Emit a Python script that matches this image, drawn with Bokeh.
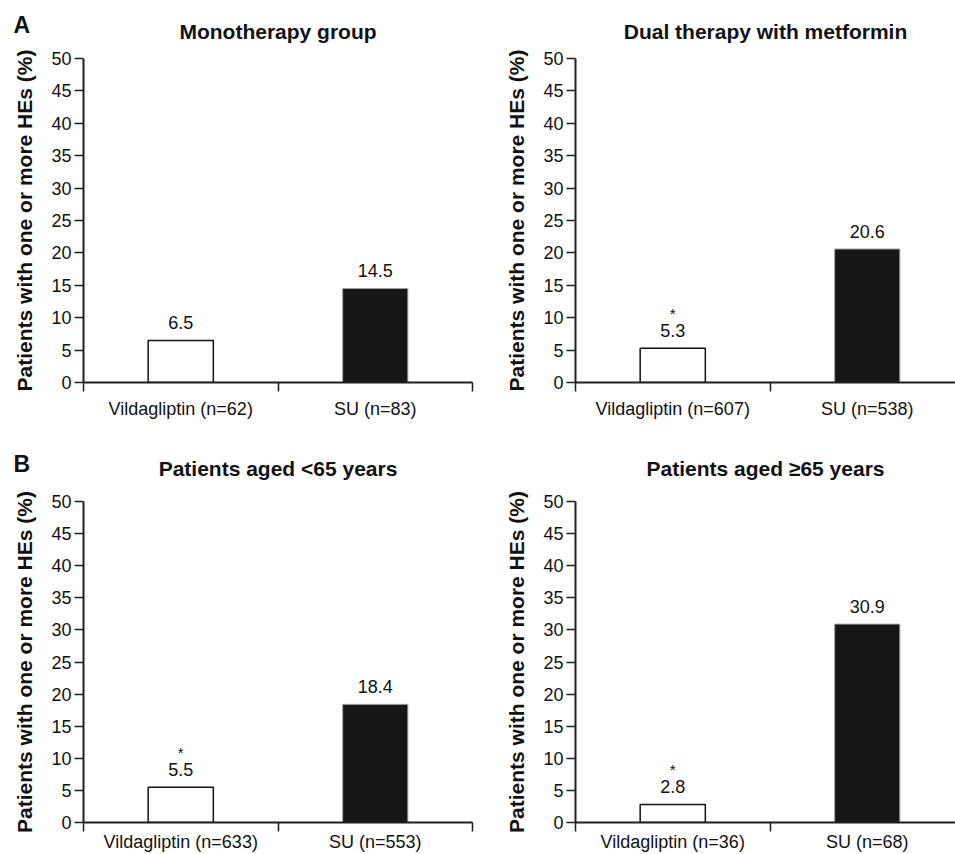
from bokeh.plotting import figure
from bokeh.models import Range1d, FixedTicker, Label, ColumnDataSource
from bokeh.layouts import column, row
from bokeh.embed import file_html
from bokeh.resources import INLINE
from bokeh.core.properties import value

# ---------------- data ----------------
panel_titles = ["Monotherapy group", "Dual therapy with metformin",
                "Patients aged <65 years", "Patients aged \u226565 years"]
panel_letters = ["A", "", "B", ""]
vild_labels = ["Vildagliptin (n=62)", "Vildagliptin (n=607)",
               "Vildagliptin (n=633)", "Vildagliptin (n=36)"]
su_labels = ["SU (n=83)", "SU (n=538)", "SU (n=553)", "SU (n=68)"]
vild_values = [6.5, 5.3, 5.5, 2.8]
su_values = [14.5, 20.6, 18.4, 30.9]
vild_significant = [False, True, True, True]
y_ticks = [0, 5, 10, 15, 20, 25, 30, 35, 40, 45, 50]
y_axis_label = "Patients with one or more HEs (%)"

FONT = "Liberation Sans"
AXIS_COLOR = "#1e1e1e"
TEXT_COLOR = "#111111"
CAT_PX = 194.5  # pixels per category


def make_panel(i, width, height, top, bottom, left, right,
               xlabel_standoff, title_standoff, letter_rise):
    frame_w = width - left - right
    x_end = frame_w / CAT_PX
    frame_h = height - top - bottom
    p = figure(width=width, height=height, output_backend="svg",
               toolbar_location=None, x_range=Range1d(0, x_end),
               y_range=Range1d(0, 50), min_border_left=left,
               min_border_right=right, min_border_top=top,
               min_border_bottom=bottom, background_fill_color="white",
               border_fill_color="white", outline_line_color=None)
    p.grid.visible = False

    # title
    p.title.text = panel_titles[i]
    p.title.align = "center"
    p.title.text_font = FONT
    p.title.text_font_size = "21px"
    p.title.text_font_style = "bold"
    p.title.text_color = TEXT_COLOR
    p.title.standoff = title_standoff

    # y axis
    ya = p.yaxis[0]
    ya.ticker = FixedTicker(ticks=y_ticks)
    ya.axis_label = y_axis_label
    ya.axis_label_text_font = FONT
    ya.axis_label_text_font_size = "21px"
    ya.axis_label_text_font_style = "bold"
    ya.axis_label_text_color = TEXT_COLOR
    ya.axis_label_standoff = 12
    ya.major_label_text_font = FONT
    ya.major_label_text_font_size = "18px"
    ya.major_label_text_color = TEXT_COLOR
    ya.major_label_standoff = 3
    ya.major_tick_in = 0
    ya.major_tick_out = 9
    ya.major_tick_line_width = 1.5
    ya.major_tick_line_color = AXIS_COLOR
    ya.minor_tick_line_color = None
    ya.axis_line_width = 2
    ya.axis_line_color = AXIS_COLOR

    # x axis: labels at category centres, separator ticks between
    xa = p.xaxis[0]
    xa.ticker = FixedTicker(ticks=[0.5, 1.5], minor_ticks=[0, 1, 2])
    xa.major_label_overrides = {0.5: vild_labels[i], 1.5: su_labels[i]}
    xa.major_label_text_font = FONT
    xa.major_label_text_font_size = "18px"
    xa.major_label_text_color = TEXT_COLOR
    xa.major_label_standoff = xlabel_standoff
    xa.major_tick_in = 0
    xa.major_tick_out = 9
    xa.major_tick_line_color = None
    xa.minor_tick_in = 0
    xa.minor_tick_out = 9
    xa.minor_tick_line_width = 1.5
    xa.minor_tick_line_color = AXIS_COLOR
    xa.axis_line_width = 2
    xa.axis_line_color = AXIS_COLOR

    # bars
    p.vbar(x=[0.5], top=[vild_values[i]], width=0.335, bottom=0,
           fill_color="white", line_color=TEXT_COLOR, line_width=1.5)
    p.vbar(x=[1.5], top=[su_values[i]], width=0.335, bottom=0,
           fill_color="#161616", line_color="#a0a0a0", line_width=1)

    # value labels
    src = ColumnDataSource(dict(x=[0.5, 1.5],
                                y=[vild_values[i], su_values[i]],
                                t=[f"{vild_values[i]:.1f}", f"{su_values[i]:.1f}"]))
    p.text(x="x", y="y", text="t", source=src, text_align="center",
           text_baseline="alphabetic", y_offset=-18,
           text_font=value(FONT), text_font_size="18px", text_color=TEXT_COLOR)
    if vild_significant[i]:
        p.text(x=[0.5], y=[vild_values[i]], text=["*"], text_align="center",
               text_baseline="alphabetic", y_offset=-35,
               text_font=value(FONT), text_font_size="15px",
               text_color=TEXT_COLOR)

    # panel letter (placed in the right side panel, drawn at top-left corner)
    if panel_letters[i]:
        lbl = Label(x=13 - (left + frame_w), y=frame_h + letter_rise,
                    x_units="screen", y_units="screen",
                    text=panel_letters[i], text_font=FONT,
                    text_font_size="23px", text_font_style="bold",
                    text_color=TEXT_COLOR, text_baseline="alphabetic",
                    text_align="left")
        p.add_layout(lbl, "right")
    return p


# row 1: frame 58..382 ; row 2: frame 501..824
p1 = make_panel(0, 500, 432, 58, 50, 83, 28, 7, 32, 34)
p2 = make_panel(1, 455, 432, 58, 50, 75, 0, 7, 32, 34)
p3 = make_panel(2, 500, 422, 69, 30, 83, 28, 0, 43, 36)
p4 = make_panel(3, 455, 422, 69, 30, 75, 0, 0, 43, 36)

layout = column(row(p1, p2), row(p3, p4))
open("out.html", "w").write(file_html(layout, INLINE))
